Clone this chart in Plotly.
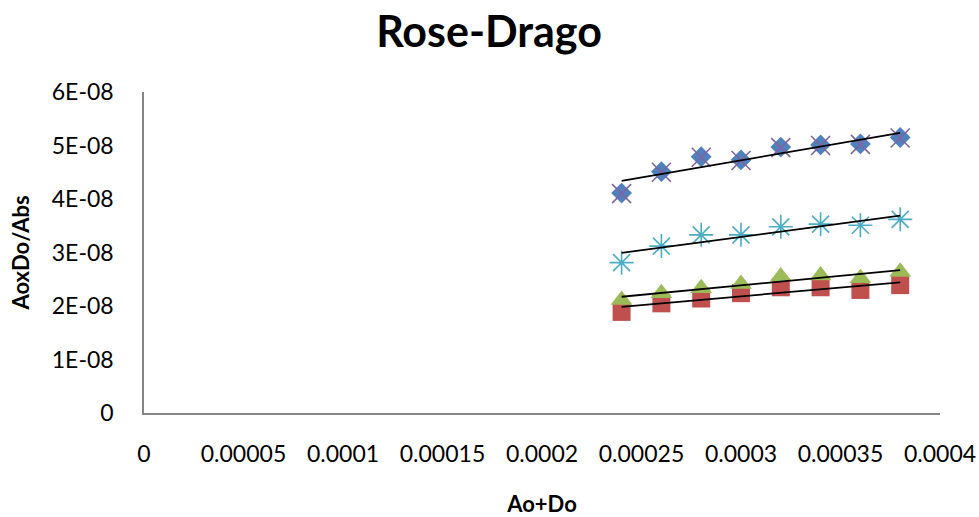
import numpy as np
import plotly.graph_objects as go

# Data
x_vals = [0.00024, 0.00026, 0.00028, 0.00030, 0.00032, 0.00034, 0.00036, 0.00038]
s_diamond = [4.11e-8, 4.51e-8, 4.79e-8, 4.73e-8, 4.97e-8, 5.01e-8, 5.03e-8, 5.15e-8]
s_square = [1.89e-8, 2.05e-8, 2.14e-8, 2.24e-8, 2.35e-8, 2.35e-8, 2.30e-8, 2.39e-8]
s_triangle = [2.11e-8, 2.24e-8, 2.33e-8, 2.41e-8, 2.55e-8, 2.57e-8, 2.52e-8, 2.64e-8]
s_x = [4.10e-8, 4.50e-8, 4.78e-8, 4.72e-8, 4.96e-8, 5.00e-8, 5.02e-8, 5.14e-8]
s_star = [2.81e-8, 3.12e-8, 3.33e-8, 3.33e-8, 3.48e-8, 3.53e-8, 3.51e-8, 3.62e-8]

y_tickvals = [0, 1e-8, 2e-8, 3e-8, 4e-8, 5e-8, 6e-8]
y_ticktext = ["0", "1E-08", "2E-08", "3E-08", "4E-08", "5E-08", "6E-08"]
x_tickvals = [0, 0.00005, 0.0001, 0.00015, 0.0002, 0.00025, 0.0003, 0.00035, 0.0004]
x_ticktext = ["0", "0.00005", "0.0001", "0.00015", "0.0002", "0.00025", "0.0003", "0.00035", "0.0004"]

FONT = "Lato"
fig = go.Figure()

series = [
    (s_diamond, dict(symbol="diamond", size=16, color="#4F81BD")),
    (s_square, dict(symbol="square", size=18, color="#C0504D")),
    (s_triangle, dict(symbol="triangle-up", size=19, color="#9BBB59")),
    (s_x, dict(symbol="x-thin-open", size=19, color="#8064A2", line=dict(color="#8064A2", width=1.6))),
    (s_star, dict(symbol="asterisk-open", size=20, color="#4BACC6", line=dict(color="#4BACC6", width=1.6))),
]
for ys, mk in series:
    fig.add_trace(go.Scatter(x=x_vals, y=ys, mode="markers", marker=mk, showlegend=False))

xa = np.array(x_vals)
for ys in [s_diamond, s_square, s_triangle, s_star]:
    m, b = np.polyfit(xa, np.array(ys), 1)
    xs = [xa.min(), xa.max()]
    fig.add_trace(go.Scatter(x=xs, y=[m * v + b for v in xs], mode="lines",
                             line=dict(color="black", width=1.8), showlegend=False))

fig.update_layout(
    width=979, height=517, autosize=False,
    paper_bgcolor="white", plot_bgcolor="white",
    margin=dict(l=144, r=39, t=92, b=104),
    title=dict(text="<b>Rose-Drago</b>", x=0.4995, xanchor="center", xref="container",
               y=0.939, yanchor="middle", yref="container",
               font=dict(family=FONT, size=43, color="black")),
    font=dict(family=FONT, color="black"),
)
fig.update_xaxes(range=[0, 0.0004], tickvals=x_tickvals, ticktext=x_ticktext, automargin=False,
                 showgrid=False, zeroline=False, showline=True, linecolor="#868686", linewidth=1.5,
                 ticks="", ticklabelstandoff=20, tickfont=dict(family=FONT, size=23, color="black"),
                 title=dict(text="<b>Ao+Do</b>", standoff=38, font=dict(family=FONT, size=22, color="black")))
fig.update_yaxes(range=[0, 6e-8], tickvals=y_tickvals, ticktext=y_ticktext, automargin=False,
                 showgrid=False, zeroline=False, showline=True, linecolor="#868686", linewidth=1.5,
                 ticks="", ticklabelstandoff=24, tickfont=dict(family=FONT, size=23, color="black"),
                 title=dict(text="<b>AoxDo/Abs</b>", standoff=16, font=dict(family=FONT, size=22, color="black")))

# remove the browser's default 8px body margin so the figure fills the window exactly
fig.write_html("out.html", config={"displayModeBar": False},
               post_script="document.body.style.margin='0';")
